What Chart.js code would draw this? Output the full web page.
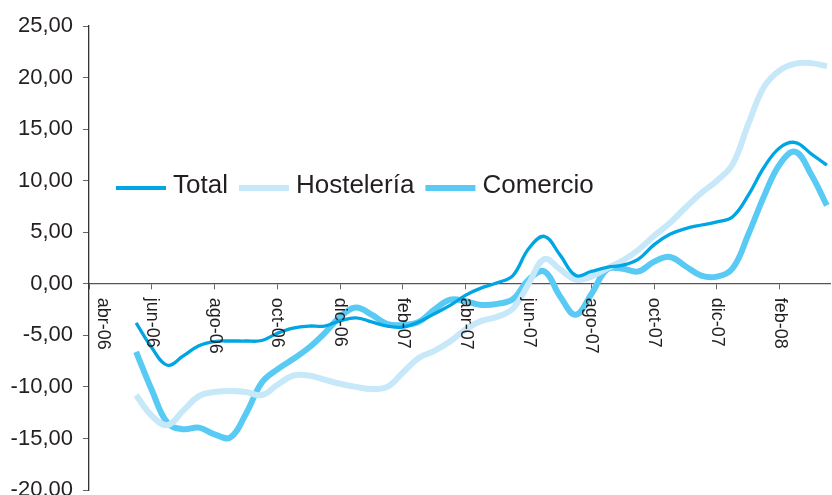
<!DOCTYPE html>
<html>
<head>
<meta charset="utf-8">
<script src="https://cdn.jsdelivr.net/npm/chart.js@4.4.1/dist/chart.umd.min.js"></script>
<style>
  html, body { margin: 0; padding: 0; background: #fff; }
  #wrap { width: 832px; height: 495px; }
</style>
</head>
<body>
<div id="wrap"><canvas id="myChart" width="832" height="495"></canvas></div>
<script>
// months counted from abr-06 (0 = abr-06), half-month readings
var periods = [1.5, 2, 2.5, 3, 3.5, 4, 4.5, 5, 5.5, 6, 6.5, 7, 7.5, 8, 8.5, 9, 9.5, 10, 10.5, 11, 11.5,
  12, 12.5, 13, 13.5, 14, 14.5, 15, 15.5, 16, 16.5, 17, 17.5, 18, 18.5, 19, 19.5, 20, 20.5, 21, 21.5,
  22, 22.5, 23, 23.5];

var total = [-3.8, -6.2, -7.9, -7.0, -6.0, -5.6, -5.55, -5.55, -5.5, -4.8, -4.3, -4.1, -4.1, -3.6, -3.3,
  -3.7, -4.1, -4.2, -3.7, -2.9, -2.1, -1.1, -0.4, 0.1, 0.8, 3.4, 4.6, 2.8, 0.8, 1.2, 1.6, 1.8, 2.4,
  3.8, 4.8, 5.35, 5.7, 6.0, 6.5, 8.6, 11.3, 13.2, 13.7, 12.6, 11.5];

var hosteleria = [-10.8, -12.8, -13.7, -12.3, -10.9, -10.5, -10.4, -10.5, -10.8, -9.8, -8.9, -8.9, -9.3,
  -9.7, -10.0, -10.2, -10.0, -8.6, -7.2, -6.5, -5.6, -4.4, -3.6, -3.2, -2.4, 0.0, 2.4, 1.4, 0.4, 0.7,
  1.5, 2.25, 3.3, 4.65, 5.9, 7.4, 8.8, 10.0, 11.6, 15.5, 19.1, 20.7, 21.35, 21.4, 21.1];

var comercio = [-6.6, -10.3, -13.5, -14.1, -13.95, -14.6, -14.9, -12.6, -9.6, -8.3, -7.3, -6.2, -4.8,
  -3.2, -2.3, -3.0, -3.9, -4.0, -3.7, -2.5, -1.55, -1.7, -2.05, -1.95, -1.5, 0.4, 1.2, -1.2, -3.0, -1.0,
  1.4, 1.45, 1.2, 2.15, 2.6, 1.7, 0.8, 0.7, 1.5, 4.8, 8.5, 11.6, 12.8, 10.6, 7.6];

var tickLabels = ['abr-06', 'jun-06', 'ago-06', 'oct-06', 'dic-06', 'feb-07', 'abr-07', 'jun-07',
  'ago-07', 'oct-07', 'dic-07', 'feb-08'];

var seriesNames = ['Total', 'Hostelería', 'Comercio'];

var FONT = "'Liberation Sans', Arial, sans-serif";
var TEXT = '#231f20';

function points(values) {
  return values.map(function (v, i) { return { x: periods[i], y: v }; });
}

// x labels drawn rotated clockwise under the zero line
var xLabels = {
  id: 'xLabels',
  afterDraw: function (chart) {
    var c = chart.ctx, xs = chart.scales.x, ys = chart.scales.y;
    var y0 = ys.getPixelForValue(0) + 14;
    c.save();
    c.font = '18px ' + FONT;
    c.fillStyle = TEXT;
    c.textAlign = 'left';
    c.textBaseline = 'middle';
    tickLabels.forEach(function (lab, i) {
      var x = Math.max(xs.getPixelForValue(i * 2), chart.chartArea.left + 14);
      c.save();
      c.translate(x, y0);
      c.rotate(Math.PI / 2);
      c.fillText(lab, 0, 0);
      c.restore();
    });
    c.restore();
  }
};

// legend inside the plot, one row
var innerLegend = {
  id: 'innerLegend',
  afterDraw: function (chart) {
    var c = chart.ctx;
    var x = 116, y = 186;
    c.save();
    c.font = '26px ' + FONT;
    c.textBaseline = 'middle';
    chart.data.datasets.forEach(function (ds) {
      c.strokeStyle = ds.borderColor;
      c.lineWidth = ds.legendWidth;
      c.beginPath();
      c.moveTo(x, y + 2);
      c.lineTo(x + 50, y + 2);
      c.stroke();
      c.fillStyle = TEXT;
      c.fillText(ds.label, x + 57, y);
      x += 57 + c.measureText(ds.label).width + 11;
    });
    c.restore();
  }
};

var ctx = document.getElementById('myChart').getContext('2d');
var myChart = new Chart(ctx, {
  type: 'line',
  data: {
    datasets: [{
      label: seriesNames[0],
      data: points(total),
      borderColor: '#00a5e3',
      borderWidth: 3.3,
      legendWidth: 4
    }, {
      label: seriesNames[1],
      data: points(hosteleria),
      borderColor: '#c6e8f8',
      borderWidth: 6,
      legendWidth: 6
    }, {
      label: seriesNames[2],
      data: points(comercio),
      borderColor: '#58caf4',
      borderWidth: 6,
      legendWidth: 6
    }]
  },
  options: {
    responsive: false,
    animation: false,
    layout: { padding: { top: 26, right: 2, bottom: 5, left: 0 } },
    elements: {
      point: { radius: 0 },
      line: { tension: 0.4, fill: false }
    },
    plugins: {
      legend: { display: false },
      tooltip: { enabled: false }
    },
    scales: {
      x: {
        type: 'linear',
        position: { y: 0 },
        min: 0,
        max: 23.6,
        afterBuildTicks: function (scale) {
          scale.ticks = tickLabels.map(function (l, i) { return { value: i * 2 }; });
        },
        afterFit: function (scale) { scale.height = 0; },
        ticks: { display: false },
        grid: { drawOnChartArea: false, color: '#666', tickLength: 5, lineWidth: 1 },
        border: { color: '#555', width: 1.3 }
      },
      y: {
        min: -20,
        max: 25,
        afterFit: function (scale) {
          scale.width = 89;
          scale.paddingTop = 0;
          scale.paddingBottom = 0;
        },
        ticks: {
          stepSize: 5,
          padding: 10,
          color: TEXT,
          font: { family: FONT, size: 22 },
          callback: function (v) { return v.toFixed(2).replace('.', ','); }
        },
        grid: { drawOnChartArea: false, color: '#666', tickLength: 6 },
        border: { color: '#333', width: 1.3 }
      }
    }
  },
  plugins: [xLabels, innerLegend]
});
</script>
</body>
</html>
